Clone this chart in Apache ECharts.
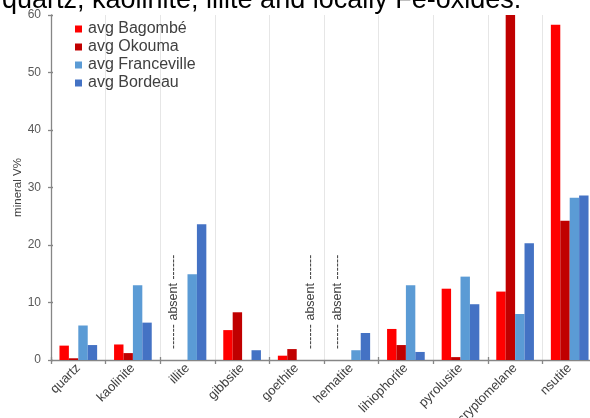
<!DOCTYPE html>
<html>
<head>
<meta charset="utf-8">
<script src="https://cdn.jsdelivr.net/npm/echarts@6/dist/echarts.min.js"></script>
<style>
  html, body { margin: 0; padding: 0; background: #fff; overflow: hidden; }
  #chart { width: 590px; height: 418px; }
</style>
</head>
<body>
<div id="chart"></div>
<script>
// Mineral volume fractions (V%) by site
const minerals = ['quartz', 'kaolinite', 'illite', 'gibbsite', 'goethite', 'hematite',
                  'lihiophorite', 'pyrolusite', 'cryptomelane', 'nsutite'];

const bagombe     = [2.5, 2.7, null, 5.2, 0.75, null, 5.4, 12.4, 11.9, 58.3];
const okouma      = [0.3, 1.2, null, 8.3, 1.9, null, 2.6, 0.5, 60.0, 24.2];
const franceville = [6.0, 13.0, 14.9, null, null, 1.7, 13.0, 14.5, 8.0, 28.2];
const bordeau     = [2.6, 6.5, 23.6, 1.7, null, 4.7, 1.4, 9.7, 20.3, 28.6];

const seriesNames = ['avg Bagombé', 'avg Okouma', 'avg Franceville', 'avg Bordeau'];
const seriesColors = ['#ff0000', '#c00000', '#5b9bd5', '#4472c4'];
const seriesValues = [bagombe, okouma, franceville, bordeau];

// Slots flagged as "absent": [mineral, series index]
const absentSlots = [['illite', 0], ['goethite', 3], ['hematite', 0]];
const absentText = '------ absent ------';

const yTicks = [0, 10, 20, 30, 40, 50, 60];
const titleText = 'quartz, kaolinite, illite and locally Fe-oxides.';

const FONT = 'Arial, "Liberation Sans", sans-serif';
const AXIS_GREY = '#868686';

function buildData(values, si) {
  return values.map(function (v, i) {
    const isAbsent = absentSlots.some(function (a) {
      return a[0] === minerals[i] && a[1] === si;
    });
    if (!isAbsent) return v;
    return {
      value: 0,
      label: {
        show: true,
        position: 'top',
        distance: 11,
        rotate: 90,
        align: 'left',
        verticalAlign: 'middle',
        formatter: absentText,
        color: '#404040',
        fontSize: 12.5,
        fontFamily: FONT
      }
    };
  });
}

const chart = echarts.init(document.getElementById('chart'), null, { renderer: 'canvas' });

chart.setOption({
  animation: false,
  backgroundColor: '#ffffff',
  textStyle: { fontFamily: FONT },
  title: {
    text: titleText,
    left: -3,
    top: -18,
    textStyle: { fontSize: 27, fontWeight: 'normal', color: '#000', fontFamily: FONT }
  },
  legend: {
    orient: 'vertical',
    left: 70,
    top: 16,
    itemWidth: 7,
    itemHeight: 7,
    itemGap: 2,
    icon: 'rect',
    data: seriesNames,
    textStyle: { fontSize: 16, lineHeight: 15, color: '#404040', fontFamily: FONT, padding: [0, 0, 0, 1] }
  },
  grid: {
    left: 51, top: 15, width: 546, height: 345,
    containLabel: false,
    outerBoundsMode: 'none'
  },
  xAxis: [{
    type: 'category',
    data: minerals,
    axisLine: { lineStyle: { color: AXIS_GREY, width: 1.3 } },
    axisTick: { show: true, length: 4, lineStyle: { color: AXIS_GREY, width: 1.3 } },
    splitLine: { show: true, lineStyle: { color: '#e6e6e6', width: 1 } },
    axisLabel: {
      rotate: 45,
      interval: 0,
      margin: 6,
      fontSize: 13,
      color: '#404040',
      fontFamily: FONT
    }
  }, {
    // inner half of the crossing tick marks
    type: 'category',
    data: minerals,
    position: 'bottom',
    axisLine: { show: false },
    axisTick: { show: true, inside: true, length: 3, lineStyle: { color: AXIS_GREY, width: 1.3 } },
    axisLabel: { show: false },
    splitLine: { show: false }
  }],
  yAxis: [{
    type: 'value',
    min: yTicks[0],
    max: yTicks[yTicks.length - 1],
    interval: 10,
    name: 'mineral V%',
    nameLocation: 'middle',
    nameGap: 27,
    nameMoveOverlap: false,
    nameTextStyle: { fontSize: 11.5, color: '#404040', fontFamily: FONT },
    axisLine: { show: true, lineStyle: { color: AXIS_GREY, width: 1.3 } },
    axisTick: { show: true, length: 3, lineStyle: { color: AXIS_GREY, width: 1.3 } },
    splitLine: { show: false },
    axisLabel: { fontSize: 12, color: '#595959', margin: 10, fontFamily: FONT }
  }, {
    type: 'value',
    position: 'left',
    min: yTicks[0],
    max: yTicks[yTicks.length - 1],
    interval: 10,
    axisLine: { show: false },
    axisTick: { show: true, inside: true, length: 2, lineStyle: { color: AXIS_GREY, width: 1.3 } },
    axisLabel: { show: false },
    splitLine: { show: false }
  }],
  series: seriesValues.map(function (vals, si) {
    return {
      name: seriesNames[si],
      type: 'bar',
      xAxisIndex: 0,
      yAxisIndex: 0,
      data: buildData(vals, si),
      barGap: '0%',
      barCategoryGap: '31%',
      itemStyle: { color: seriesColors[si] },
      clip: false
    };
  })
});
</script>
</body>
</html>
